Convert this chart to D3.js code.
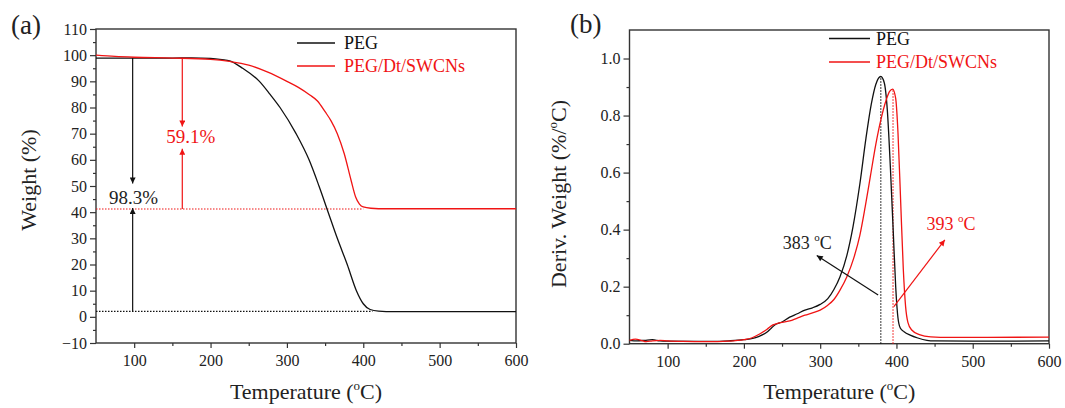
<!DOCTYPE html>
<html>
<head>
<meta charset="utf-8">
<script src="https://cdn.jsdelivr.net/npm/d3@7"></script>
<style>
  body { margin: 0; background: #fff; }
  svg text { font-family: "Liberation Serif", "Times New Roman", serif !important; }
</style>
</head>
<body>
<script>
// chart data
// panel (a): TGA weight (%) vs temperature
const pegWeight = [[50, 98.9], [100, 98.9], [150, 98.9], [175, 99.0], [200, 98.8], [215, 98.3], [225, 97.8],
  [242, 95], [264, 90], [278, 85], [291, 80], [312, 70], [329, 60], [342, 50], [354, 40], [366, 30],
  [379, 20], [391, 10], [400, 5], [409, 2.8], [420, 2.2], [440, 2.0], [600, 2.0]];
const compWeight = [[50, 100], [75, 99.5], [100, 99.2], [150, 98.9], [200, 98.4], [225, 97.6], [250, 96.2],
  [275, 93.5], [300, 90], [315, 87.7], [330, 84.8], [340, 82.5], [350, 78.4], [358, 74.8], [366, 70], [375, 62.4],
  [384, 52.2], [390, 45.8], [395, 43.1], [400, 42], [410, 41.5], [430, 41.3], [600, 41.3]];

// panel (b): DTG derivative weight (%/°C) vs temperature
const pegDeriv = [[50, 0.012], [60, 0.010], [70, 0.012], [80, 0.014], [90, 0.010], [100, 0.009], [140, 0.008],
  [160, 0.008], [180, 0.010], [200, 0.014], [210, 0.018], [220, 0.026], [230, 0.040], [235, 0.052], [240, 0.065],
  [250, 0.076], [260, 0.093], [270, 0.105], [280, 0.118], [290, 0.126], [300, 0.138], [310, 0.158], [318, 0.19],
  [326, 0.235], [335, 0.31], [343, 0.41], [352, 0.56], [360, 0.72], [367, 0.84], [373, 0.91], [379.5, 0.937],
  [384, 0.915], [388, 0.82], [392, 0.62], [396, 0.38], [399, 0.2], [402, 0.09], [405, 0.055], [410, 0.042],
  [418, 0.03], [428, 0.02], [440, 0.012], [450, 0.010], [500, 0.009], [550, 0.009], [600, 0.010]];
const compDeriv = [[50, 0.012], [58, 0.016], [65, 0.012], [72, 0.007], [80, 0.010], [90, 0.012], [100, 0.010],
  [120, 0.008], [150, 0.007], [180, 0.009], [200, 0.014], [210, 0.020], [220, 0.033], [230, 0.050], [238, 0.066],
  [245, 0.072], [260, 0.080], [270, 0.090], [280, 0.100], [290, 0.108], [300, 0.118], [310, 0.135], [318, 0.155],
  [326, 0.188], [335, 0.235], [344, 0.30], [352, 0.38], [359, 0.48], [366, 0.59], [373, 0.70], [380, 0.79],
  [386, 0.85], [391, 0.885], [395, 0.893], [399, 0.86], [402, 0.74], [405.5, 0.5], [409, 0.26], [412, 0.13],
  [415, 0.075], [420, 0.048], [430, 0.032], [445, 0.024], [470, 0.022], [600, 0.023]];

// ticks
const xMajor = [100, 200, 300, 400, 500, 600];
const xMinor = [150, 250, 350, 450, 550];
const yMajorA = [-10, 0, 10, 20, 30, 40, 50, 60, 70, 80, 90, 100, 110];
const yMinorA = [-5, 5, 15, 25, 35, 45, 55, 65, 75, 85, 95, 105];
const yMajorB = [0, 0.2, 0.4, 0.6, 0.8, 1.0];
const yMinorB = [0.1, 0.3, 0.5, 0.7, 0.9];

const seriesNames = ["PEG", "PEG/Dt/SWCNs"];
const seriesColors = ["#111", "#f01414"];

const width = 1065, height = 408;
const svg = d3.select("body").append("svg")
  .attr("width", width)
  .attr("height", height);

// arrowhead markers
const defs = svg.append("defs");
seriesColors.forEach((c, i) => {
  defs.append("marker")
    .attr("id", "arrow" + i)
    .attr("markerUnits", "userSpaceOnUse")
    .attr("viewBox", "0 0 10 10")
    .attr("refX", 10).attr("refY", 5)
    .attr("markerWidth", 9).attr("markerHeight", 6)
    .attr("orient", "auto")
    .append("path")
    .attr("d", "M0,0 L10,5 L0,10 z")
    .attr("fill", c);
});

// helper that builds one framed panel and returns its scales
function panel(box, yDomain, yMajor, yMinor, yFmt, yLabel, tag) {
  const x = d3.scaleLinear().domain([50, 600]).range([box.left, box.right]);
  const y = d3.scaleLinear().domain(yDomain).range([box.bottom, box.top]);
  const g = svg.append("g");

  const axisCol = "#333";
  // bottom axis
  g.append("g").attr("transform", `translate(0,${box.bottom})`)
    .call(d3.axisBottom(x).tickValues(xMajor).tickSize(5).tickPadding(7).tickFormat(d3.format("d")));
  g.append("g").attr("transform", `translate(0,${box.bottom})`)
    .call(d3.axisBottom(x).tickValues(xMinor).tickSize(3).tickFormat(""));
  // left axis
  g.append("g").attr("transform", `translate(${box.left},0)`)
    .call(d3.axisLeft(y).tickValues(yMajor).tickSize(6).tickPadding(3).tickFormat(yFmt));
  g.append("g").attr("transform", `translate(${box.left},0)`)
    .call(d3.axisLeft(y).tickValues(yMinor).tickSize(3).tickFormat(""));

  g.selectAll(".domain").remove();
  g.selectAll(".tick line").attr("stroke", axisCol).attr("stroke-width", 1.2);
  g.selectAll(".tick text").attr("font-size", 16).attr("fill", "#222");

  // frame
  g.append("rect")
    .attr("x", box.left).attr("y", box.top)
    .attr("width", box.right - box.left).attr("height", box.bottom - box.top)
    .attr("fill", "none").attr("stroke", axisCol).attr("stroke-width", 1.4);

  // x title
  const xt = g.append("text")
    .attr("x", (box.left + box.right) / 2).attr("y", 399)
    .attr("text-anchor", "middle").attr("font-size", 22).attr("fill", "#222");
  xt.append("tspan").text("Temperature (");
  xt.append("tspan").attr("font-size", 13).attr("dy", -9).text("o");
  xt.append("tspan").attr("dy", 9).text("C)");

  // y title
  const yt = g.append("text")
    .attr("transform", `translate(${yLabel.x},${yLabel.y}) rotate(-90)`)
    .attr("text-anchor", "middle").attr("font-size", 22).attr("fill", "#222");
  yt.append("tspan").text(yLabel.pre);
  if (yLabel.sup) {
    yt.append("tspan").attr("font-size", 13).attr("dy", -9).text("o");
    yt.append("tspan").attr("dy", 9).text(yLabel.post);
  }

  // panel tag
  g.append("text").attr("x", tag.x).attr("y", tag.y)
    .attr("font-size", 27).attr("fill", "#222").text(tag.text);

  return { x, y, g };
}

function legend(g, x0, x1, ys, tx) {
  seriesNames.forEach((n, i) => {
    g.append("line").attr("x1", x0).attr("x2", x1).attr("y1", ys[i]).attr("y2", ys[i])
      .attr("stroke", seriesColors[i]).attr("stroke-width", 1.3);
    g.append("text").attr("x", tx).attr("y", ys[i] + 6)
      .attr("font-size", 18).attr("fill", seriesColors[i]).text(n);
  });
}

function drawLine(p, data, color) {
  const line = d3.line().x(d => p.x(d[0])).y(d => p.y(d[1])).curve(d3.curveMonotoneX);
  p.g.append("path").datum(data)
    .attr("d", line)
    .attr("fill", "none").attr("stroke", color).attr("stroke-width", 1.3);
}

function seg(p, a, b, color, opts = {}) {
  const l = p.g.append("line")
    .attr("x1", p.x(a[0])).attr("y1", p.y(a[1]))
    .attr("x2", p.x(b[0])).attr("y2", p.y(b[1]))
    .attr("stroke", color).attr("stroke-width", opts.w || 1.2);
  if (opts.dash) l.attr("stroke-dasharray", opts.dash);
  if (opts.arrow !== undefined) l.attr("marker-end", `url(#arrow${opts.arrow})`);
  return l;
}

// ---------- panel (a) ----------
const pa = panel({ left: 96, right: 516, top: 29, bottom: 343 }, [-10, 110], yMajorA, yMinorA,
  d3.format("d"), { x: 36, y: 180, pre: "Weight (%)" }, { x: 11, y: 34, text: "(a)" });

// residual-weight dotted guides
seg(pa, [50, 41.2], [400, 41.2], seriesColors[1], { dash: "1.5,1.5", w: 1.1 });
seg(pa, [50, 2.1], [412, 2.1], seriesColors[0], { dash: "1.5,1.5", w: 1.1 });

drawLine(pa, pegWeight, seriesColors[0]);
drawLine(pa, compWeight, seriesColors[1]);

// loss arrows
seg(pa, [98, 98.9], [98, 51], seriesColors[0], { arrow: 0 });
seg(pa, [98, 2.1], [98, 41.6], seriesColors[0], { arrow: 0 });
pa.g.append("text").attr("x", pa.x(99)).attr("y", pa.y(43.0))
  .attr("text-anchor", "middle").attr("font-size", 19).attr("fill", "#222").text("98.3%");
seg(pa, [163, 98.6], [163, 72.7], seriesColors[1], { arrow: 1 });
seg(pa, [163, 41.2], [163, 64.2], seriesColors[1], { arrow: 1 });
pa.g.append("text").attr("x", pa.x(174)).attr("y", pa.y(66.5))
  .attr("text-anchor", "middle").attr("font-size", 19).attr("fill", seriesColors[1]).text("59.1%");

legend(pa.g, 297, 335, [43, 66], 344);

// ---------- panel (b) ----------
const pb = panel({ left: 629.5, right: 1049, top: 30, bottom: 343.7 }, [0, 1.1], yMajorB, yMinorB,
  d3.format(".1f"), { x: 566, y: 194, pre: "Deriv. Weight (%/", sup: true, post: "C)" }, { x: 570, y: 33, text: "(b)" });

// peak markers
seg(pb, [379.5, 0], [379.5, 0.937], seriesColors[0], { dash: "1.5,1.5", w: 1.1 });
seg(pb, [395.5, 0], [395.5, 0.89], seriesColors[1], { dash: "1.5,1.5", w: 1.1 });

drawLine(pb, pegDeriv, seriesColors[0]);
drawLine(pb, compDeriv, seriesColors[1]);

seg(pb, [376, 0.171], [295.5, 0.309], seriesColors[0], { arrow: 0 });
seg(pb, [396.6, 0.13], [463.4, 0.364], seriesColors[1], { arrow: 1 });

function tempLabel(p, t, v, txt, color) {
  const el = p.g.append("text").attr("x", p.x(t)).attr("y", p.y(v))
    .attr("font-size", 18).attr("fill", color);
  el.append("tspan").text(txt + " ");
  el.append("tspan").attr("font-size", 11).attr("dy", -8).text("o");
  el.append("tspan").attr("dy", 8).text("C");
}
tempLabel(pb, 251, 0.332, "383", "#222");
tempLabel(pb, 439.4, 0.399, "393", seriesColors[1]);

legend(pb.g, 829, 870, [38.5, 62], 876);
</script>
</body>
</html>
